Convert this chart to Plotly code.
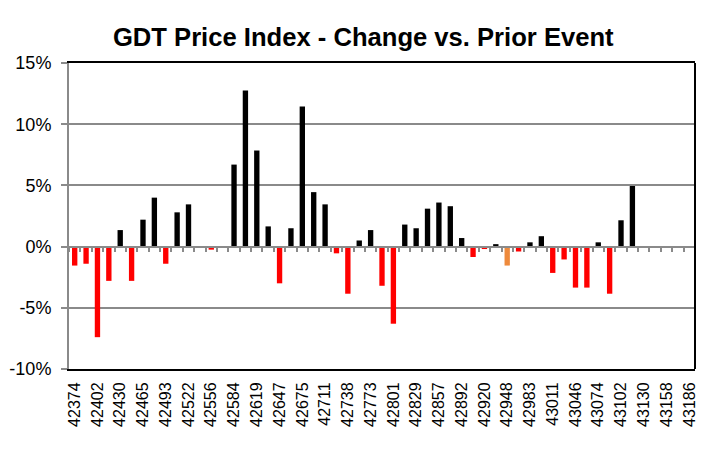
import plotly.graph_objects as go

# GDT event dates (Excel serial numbers), one per auction event
event_dates = [
    "42374", "42388", "42402", "42416", "42430", "42444", "42465", "42479",
    "42493", "42507", "42522", "42536", "42556", "42570", "42584", "42598",
    "42619", "42633", "42647", "42661", "42675", "42689", "42711", "42724",
    "42738", "42752", "42773", "42787", "42801", "42815", "42829", "42843",
    "42857", "42871", "42892", "42906", "42920", "42934", "42948", "42962",
    "42983", "42997", "43011", "43025", "43046", "43060", "43074", "43088",
    "43102", "43116", "43130", "43144", "43158", "43172", "43186",
]

# % change vs prior event (None = event not yet held)
pct_change = [
    -1.55, -1.4, -7.4, -2.8, 1.35, -2.8, 2.2, 4.0,
    -1.4, 2.8, 3.45, 0.0, -0.25, 0.0, 6.7, 12.75,
    7.85, 1.65, -3.0, 1.5, 11.45, 4.45, 3.45, -0.55,
    -3.85, 0.5, 1.35, -3.2, -6.3, 1.8, 1.5, 3.1,
    3.6, 3.3, 0.7, -0.85, -0.2, 0.2, -1.55, -0.4,
    0.35, 0.85, -2.15, -1.05, -3.35, -3.35, 0.35, -3.85,
    2.15, 4.95, None, None, None, None, None,
]

highlight_dates = ["42948"]

# axis labels
x_tick_labels = event_dates[::2]
y_tick_values = [-10, -5, 0, 5, 10, 15]
y_tick_labels = ["-10%", "-5%", "0%", "5%", "10%", "15%"]

title_text = "GDT Price Index - Change vs. Prior Event"

colors = []
for d, v in zip(event_dates, pct_change):
    if d in highlight_dates:
        colors.append("#ee8a3c")
    elif v is not None and v >= 0:
        colors.append("#000000")
    else:
        colors.append("#ff0000")

FONT = "Liberation Sans, Arial, Helvetica, sans-serif"
Y_MIN, Y_MAX = -10, 15

fig = go.Figure()
fig.add_trace(go.Bar(
    x=event_dates,
    y=pct_change,
    marker=dict(color=colors, line=dict(width=0)),
    width=0.47,
    hovertemplate="%{x}: %{y:.2f}%<extra></extra>",
))
# empty companion trace so the category axis crossing at 0% is drawn
fig.add_trace(go.Scatter(
    x=event_dates, y=pct_change, xaxis="x2", yaxis="y",
    mode="none", hoverinfo="skip", showlegend=False,
))

fig.update_layout(
    width=712, height=442,
    margin=dict(l=61, r=25, t=55, b=81),
    paper_bgcolor="white",
    plot_bgcolor="white",
    showlegend=False,
    font=dict(family=FONT, color="black"),
    title=dict(
        text="<b>" + title_text + "</b>",
        x=0.499, xanchor="center", y=0.934, yanchor="middle",
        font=dict(size=25.6, family=FONT, color="black"),
    ),
    xaxis=dict(
        type="category",
        categoryorder="array", categoryarray=event_dates,
        tickmode="array", tickvals=x_tick_labels, ticktext=x_tick_labels,
        tickangle=-90,
        tickfont=dict(size=16, family=FONT, color="black"),
        ticks="outside", ticklen=5, tickcolor="rgba(0,0,0,0)",
        showgrid=False,
        showline=True, linecolor="black", linewidth=2, mirror=True,
        zeroline=False, automargin=False,
    ),
    xaxis2=dict(
        type="category",
        categoryorder="array", categoryarray=event_dates,
        overlaying="x", matches="x",
        anchor="free", position=(0 - Y_MIN) / (Y_MAX - Y_MIN),
        tickmode="linear", tick0=0, dtick=1,
        tickson="boundaries",
        ticks="outside", ticklen=4, tickwidth=2, tickcolor="#8a8a8a",
        showticklabels=False,
        showgrid=False,
        showline=True, linecolor="#8a8a8a", linewidth=2,
        zeroline=False, automargin=False,
    ),
    yaxis=dict(
        range=[Y_MIN, Y_MAX],
        tickmode="array", tickvals=y_tick_values, ticktext=y_tick_labels,
        tickfont=dict(size=18, family=FONT, color="black"),
        ticks="outside", ticklen=6, tickwidth=2, tickcolor="#8a8a8a",
        ticklabelstandoff=6,
        showgrid=True, gridcolor="#8a8a8a", gridwidth=2,
        showline=True, linecolor="#8a8a8a", linewidth=2,
        zeroline=False, automargin=False,
    ),
    shapes=[
        dict(type="line", xref="x domain", yref="y domain",
             x0=1, x1=1, y0=0, y1=1,
             line=dict(color="black", width=2), layer="above"),
    ],
    bargap=0.55,
)

fig.write_html("out.html")
